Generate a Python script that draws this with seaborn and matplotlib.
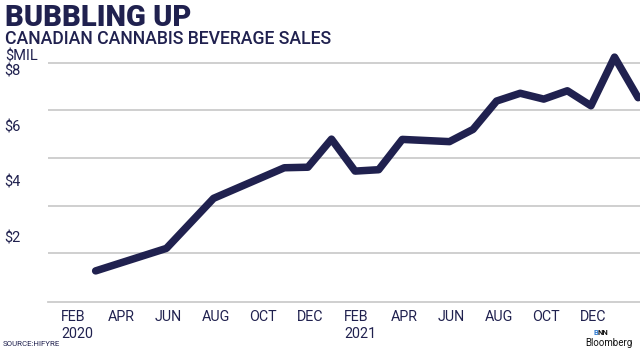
import matplotlib
matplotlib.use("Agg")
import matplotlib.pyplot as plt
import matplotlib.transforms as mtransforms
import numpy as np
import pandas as pd
import seaborn as sns

# Canadian cannabis beverage sales by month, $ millions (source: Hifyre)
months = ["2020-03", "2020-06", "2020-08", "2020-11", "2020-12", "2021-01",
          "2021-02", "2021-03", "2021-04", "2021-06", "2021-07", "2021-08",
          "2021-09", "2021-10", "2021-11", "2021-12", "2022-01", "2022-02"]
sales = [0.77, 1.58, 3.38, 4.48, 4.50, 5.51,
         4.36, 4.41, 5.50, 5.42, 5.86, 6.88,
         7.16, 6.95, 7.25, 6.71, 8.46, 7.00]

tick_months = ["2020-02", "2020-04", "2020-06", "2020-08", "2020-10", "2020-12",
               "2021-02", "2021-04", "2021-06", "2021-08", "2021-10", "2021-12"]
tick_labels = ["FEB\n2020", "APR", "JUN", "AUG", "OCT", "DEC",
               "FEB\n2021", "APR", "JUN", "AUG", "OCT", "DEC"]
y_ticks = [2, 4, 6, 8]
y_tick_labels = ["\\$2", "\\$4", "\\$6", "\\$8"]

NAVY = "#20214f"
GRID = "#cccccc"


def month_index(s):
    y, m = map(int, s.split("-"))
    return (y - 2020) * 12 + m - 3


df = pd.DataFrame({"month": [month_index(m) for m in months], "sales": sales})

sns.set_style("white")
plt.rcParams["font.family"] = ["Roboto", "DejaVu Sans"]

fig = plt.figure(figsize=(6.4, 3.49), dpi=100)
ax = fig.add_axes([48 / 640, 47 / 349, 592 / 640, 262 / 349])

sns.lineplot(data=df, x="month", y="sales", ax=ax, color=NAVY, linewidth=5.4,
             solid_capstyle="round", solid_joinstyle="round", zorder=3)

ax.set_xlim(-2.02, 23.08)
ax.set_ylim(-0.349, 9.076)

# horizontal rules
ax.set_yticks(np.linspace(1.40, 8.26, 5), minor=True)
ax.grid(which="minor", axis="y", color=GRID, linewidth=1.3)
ax.grid(which="major", visible=False)

ax.set_yticks(y_ticks, y_tick_labels)
ax.tick_params(axis="y", which="both", length=0, pad=31.5, labelsize=10.5,
               labelcolor=NAVY)
for lbl in ax.get_yticklabels():
    lbl.set_horizontalalignment("left")

ax.set_xticks([month_index(m) for m in tick_months], tick_labels)
ax.tick_params(axis="x", length=0, pad=6, labelsize=10.3, labelcolor=NAVY)
for lbl in ax.get_xticklabels():
    lbl.set_horizontalalignment("center")
    lbl.set_multialignment("left")
    shift = 5 if "\n" in lbl.get_text() else 2
    lbl.set_transform(lbl.get_transform() +
                      mtransforms.ScaledTranslation(shift / 100, 0, fig.dpi_scale_trans))

for side in ("left", "right", "top"):
    ax.spines[side].set_visible(False)
ax.spines["bottom"].set_color(GRID)
ax.spines["bottom"].set_linewidth(1.3)
ax.set_xlabel("")
ax.set_ylabel("")

fig.text(5 / 640, 1 - 26 / 349, "BUBBLING UP", fontsize=21, fontweight="black",
         color=NAVY, va="baseline", ha="left")
fig.text(5 / 640, 1 - 44.3 / 349, "CANADIAN CANNABIS BEVERAGE SALES", fontsize=12.7,
         fontweight="medium", color=NAVY, va="baseline", ha="left")
fig.text(5 / 640, 1 - 60 / 349, "\\$MIL", fontsize=10.5, color=NAVY,
         va="baseline", ha="left")
fig.text(3 / 640, 1 - 346 / 349, "SOURCE:HIFYRE", fontsize=5.7, color=NAVY,
         va="baseline", ha="left")

# BNN Bloomberg mark
b_txt = fig.text(593 / 640, 1 - 335 / 349, "B", fontsize=5.5, fontweight="bold",
                 color="#2f7bd1", va="baseline", ha="left")
fig.canvas.draw()
b_box = b_txt.get_window_extent()
fig.text(b_box.x1 / 640, 1 - 335 / 349, "NN", fontsize=5.5, fontweight="bold",
         color="#111111", va="baseline", ha="left")
fig.text(585 / 640, 1 - 345.5 / 349, "Bloomberg", fontsize=7, color="#111111",
         va="baseline", ha="left")

fig.savefig("out.png", dpi=100)
